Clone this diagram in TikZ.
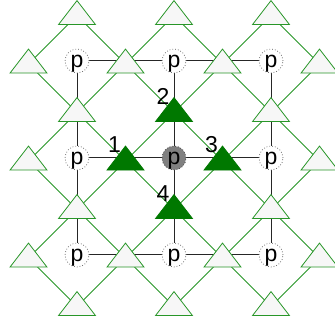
\documentclass[tikz,border=0pt]{standalone}
\usepackage{fontspec}
\setmainfont{Liberation Sans}
\usetikzlibrary{shapes.geometric, backgrounds}
\definecolor{verde}{RGB}{40,150,40}
\definecolor{verdeosc}{RGB}{0,120,0}

\begin{document}
\begin{tikzpicture}[
    x=48.5pt, y=-48.5pt,
    trig/.style={
        isosceles triangle, isosceles triangle stretches,
        shape border rotate=90, draw=verde, fill=black!3,
        minimum width=37pt, minimum height=24pt, inner sep=0pt,
        line width=0.8pt, yshift=-3pt
    },
    trigon/.style={trig, draw=verdeosc, fill=verdeosc},
    pnode/.style={
        circle, draw=black!55, dotted, line width=0.8pt, fill=white,
        minimum size=24pt, inner sep=0pt, text height=15pt, text depth=2pt,
        font=\fontsize{23}{23}\selectfont
    },
    pcentro/.style={pnode, fill=black!50, draw=black!70},
    num/.style={font=\fontsize{23}{23}\selectfont, inner sep=0pt},
    rejilla/.style={black!85, line width=1pt},
    enlace/.style={verde, line width=0.8pt}
]
\useasboundingbox (-28.5pt,12.5pt) rectangle (306.5pt,-307.5pt);

% Triangulos (los cuatro del centro, rellenos)
\foreach \i in {0,...,6}{
    \foreach \j in {0,...,6}{
        \ifodd\numexpr\i+\j\relax
            \pgfmathtruncatemacro\dentro{(\i>1)&&(\i<5)&&(\j>1)&&(\j<5)}
            \ifnum\dentro=1
                \node[trigon] (t\i\j) at (\i,\j) {};
            \else
                \node[trig] (t\i\j) at (\i,\j) {};
            \fi
        \fi
    }
}

% Nodos p
\foreach \i in {1,3,5}{
    \foreach \j in {1,3,5}{
        \ifnum\i\j=33
            \node[pcentro] (p\i\j) at (\i,\j) {p};
        \else
            \node[pnode] (p\i\j) at (\i,\j) {p};
        \fi
    }
}

\begin{scope}[on background layer]
% Rejilla p -- p (pasa por debajo de los triangulos)
\foreach \a/\b in {1/3, 3/5}{
    \foreach \f in {1,3,5}{
        \draw[rejilla] (p\a\f.center) -- (p\b\f.center);
        \draw[rejilla] (p\f\a.center) -- (p\f\b.center);
    }
}

% Enlaces diagonales entre triangulos
\foreach \i in {0,...,5}{
    \foreach \j in {0,...,6}{
        \ifodd\numexpr\i+\j\relax
            \pgfmathtruncatemacro\sig{\i+1}
            \pgfmathtruncatemacro\jab{\j+1}
            \pgfmathtruncatemacro\jar{\j-1}
            \ifnum\j<6 \draw[enlace] (t\i\j.center) -- (t\sig\jab.center); \fi
            \ifnum\j>0 \draw[enlace] (t\i\j.center) -- (t\sig\jar.center); \fi
        \fi
    }
}
\end{scope}

% Numeros
\node[num] (n1) at ([shift={(-11pt,16pt)}]t23.center) {1};
\node[num] (n2) at ([shift={(-11pt,16pt)}]t32.center) {2};
\node[num] (n3) at ([shift={(-11pt,16pt)}]t43.center) {3};
\node[num] (n4) at ([shift={(-11pt,16pt)}]t34.center) {4};

\end{tikzpicture}
\end{document}
